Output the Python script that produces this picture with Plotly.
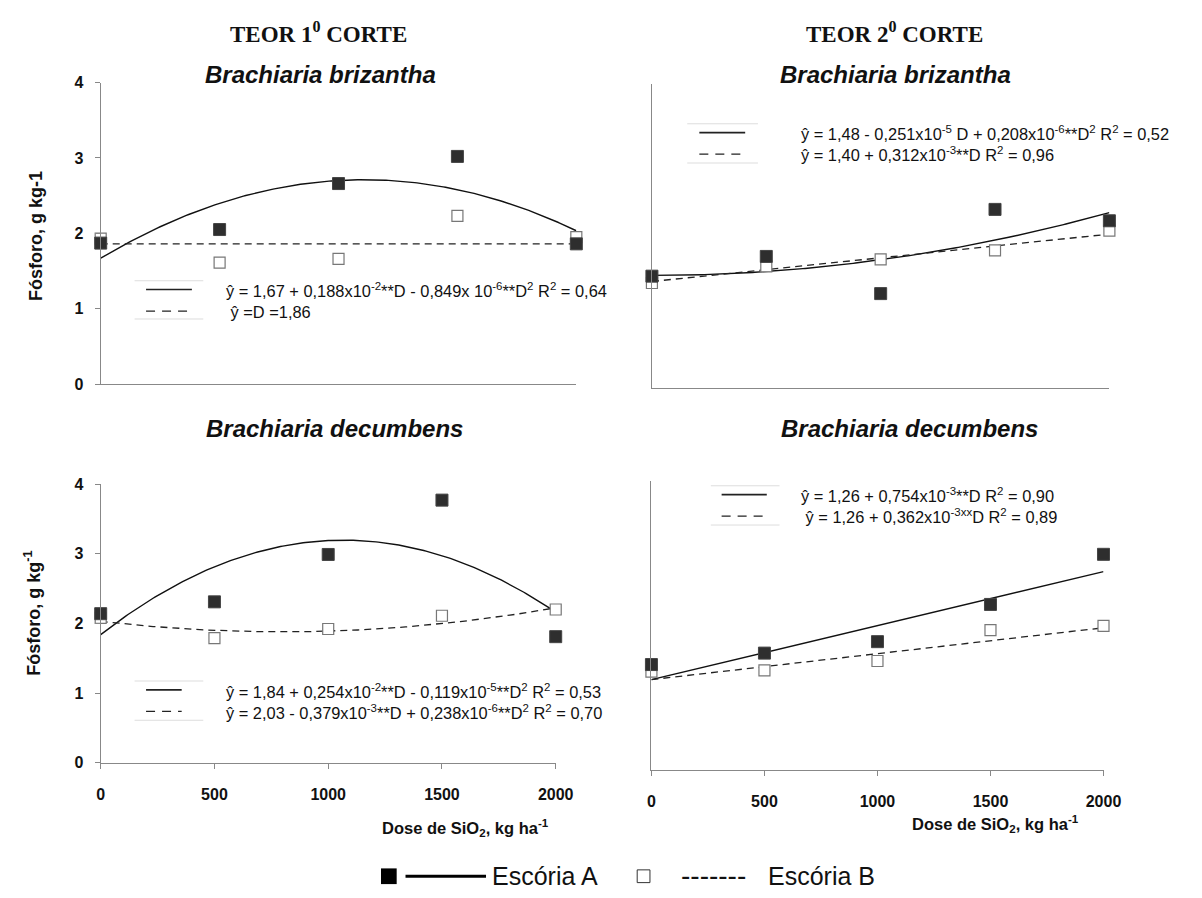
import numpy as np
import plotly.graph_objects as go

W, H = 1202, 898

# ---- data -------------------------------------------------------------
dose = [0, 500, 1000, 1500, 2000]

# Teor 1º corte - Brachiaria brizantha
tl_a = [1.87, 2.05, 2.66, 3.02, 1.86]
tl_b = [1.93, 1.61, 1.66, 2.23, 1.95]
# Teor 2º corte - Brachiaria brizantha
tr_a = [1.47, 1.73, 1.24, 2.35, 2.20]
tr_b = [1.38, 1.60, 1.69, 1.81, 2.07]
# Teor 1º corte - Brachiaria decumbens
bl_a = [2.14, 2.31, 2.99, 3.77, 1.81]
bl_b = [2.08, 1.79, 1.92, 2.11, 2.20]
# Teor 2º corte - Brachiaria decumbens
br_a = [1.47, 1.63, 1.79, 2.31, 3.01]
br_b = [1.37, 1.39, 1.52, 1.95, 2.01]

# regression coefficients (b0, b1, b2) as printed in each panel
tl_fit_a = [1.67, 0.188e-2, -0.849e-6]
tl_fit_b = [1.86, 0.0, 0.0]
tr_fit_a = [1.48, -0.251e-5, 0.208e-6]
tr_fit_b = [1.40, 0.312e-3, 0.0]
bl_fit_a = [1.84, 0.254e-2, -0.119e-5]
bl_fit_b = [2.03, -0.379e-3, 0.238e-6]
br_fit_a = [1.26, 0.754e-3, 0.0]
br_fit_b = [1.26, 0.362e-3, 0.0]

y_ticks = [0, 1, 2, 3, 4]
x_ticks = [0, 500, 1000, 1500, 2000]

NB = "\u00a0"

# equation labels, two lines per panel (Escória A, Escória B)
tl_eq = ["ŷ = 1,67 + 0,188x10<sup>-2</sup>**D - 0,849x 10<sup>-6</sup>**D<sup>2</sup> R<sup>2</sup> = 0,64",
         NB + "ŷ =D =1,86"]
tr_eq = ["ŷ = 1,48 - 0,251x10<sup>-5</sup> D + 0,208x10<sup>-6</sup>**D<sup>2</sup> R<sup>2</sup> = 0,52",
         "ŷ = 1,40 + 0,312x10<sup>-3</sup>**D R<sup>2</sup> = 0,96"]
bl_eq = ["ŷ = 1,84 + 0,254x10<sup>-2</sup>**D - 0,119x10<sup>-5</sup>**D<sup>2</sup> R<sup>2</sup> = 0,53",
         "ŷ = 2,03 - 0,379x10<sup>-3</sup>**D + 0,238x10<sup>-6</sup>**D<sup>2</sup> R<sup>2</sup> = 0,70"]
br_eq = ["ŷ = 1,26 + 0,754x10<sup>-3</sup>**D R<sup>2</sup> = 0,90",
         NB + "ŷ = 1,26 + 0,362x10<sup>-3xx</sup>D R<sup>2</sup> = 0,89"]


def px(x):
    return x / W


def py(y):
    return 1 - y / H


def fitted(coef):
    d = np.linspace(0, 2000, 201)
    return d, coef[0] + coef[1] * d + coef[2] * d ** 2


fig = go.Figure()

panels = [
    # axis suffix, A, B, fit A, fit B
    ("", tl_a, tl_b, tl_fit_a, tl_fit_b),
    ("2", tr_a, tr_b, tr_fit_a, tr_fit_b),
    ("3", bl_a, bl_b, bl_fit_a, bl_fit_b),
    ("4", br_a, br_b, br_fit_a, br_fit_b),
]

for sfx, a, b, fa, fb in panels:
    xa, ya = "x" + sfx, "y" + sfx
    d, ca = fitted(fa)
    fig.add_trace(go.Scatter(x=d, y=ca, mode="lines", xaxis=xa, yaxis=ya,
                             line=dict(color="#111111", width=1.4),
                             showlegend=False, hoverinfo="skip"))
    d, cb = fitted(fb)
    fig.add_trace(go.Scatter(x=d, y=cb, mode="lines", xaxis=xa, yaxis=ya,
                             line=dict(color="#222222", width=1.3, dash="7px,5px"),
                             showlegend=False, hoverinfo="skip"))
    fig.add_trace(go.Scatter(x=dose, y=b, mode="markers", xaxis=xa, yaxis=ya,
                             marker=dict(symbol="square", size=11, color="white",
                                         line=dict(color="#777777", width=1.2)),
                             cliponaxis=False, showlegend=False))
    fig.add_trace(go.Scatter(x=dose, y=a, mode="markers", xaxis=xa, yaxis=ya,
                             marker=dict(symbol="square", size=12, color="#2e2e2e",
                                         line=dict(color="#444444", width=1)),
                             cliponaxis=False, showlegend=False))

tick_font = dict(family="Liberation Sans, Arial", size=16, color="#111111",
                 weight="bold")
axis_line = dict(showline=True, linecolor="#888888", linewidth=1,
                 showgrid=False, zeroline=False)


def xax(dom, labels):
    d = dict(domain=dom, range=[0, 2000], **axis_line)
    if labels:
        d.update(tickmode="array", tickvals=x_ticks, ticks="outside",
                 ticklen=5, tickcolor="#888888", tickfont=tick_font,
                 ticklabelstandoff=12)
    else:
        d.update(showticklabels=False, ticks="")
    return d


def yax(dom, rng, labels):
    d = dict(domain=dom, range=rng, **axis_line)
    if labels:
        d.update(tickmode="array", tickvals=y_ticks, ticks="outside",
                 ticklen=5, tickcolor="#888888", tickfont=tick_font,
                 ticklabelstandoff=8)
    else:
        d.update(showticklabels=False, ticks="")
    return d


fig.update_layout(
    width=W, height=H,
    margin=dict(l=0, r=0, t=0, b=0),
    paper_bgcolor="white", plot_bgcolor="white",
    font=dict(family="Liberation Sans, Arial", color="#111111"),
    xaxis=dict(xax([px(98.5), px(583)], False), anchor="y"),
    yaxis=dict(yax([py(383.3), py(76)], [0, 4], True), anchor="x"),
    xaxis2=dict(xax([px(660), px(1126)], False), anchor="y2"),
    yaxis2=dict(yax([py(387), py(77.7)], [0, 4], False), anchor="x2"),
    xaxis3=dict(xax([px(98.5), px(562)], True), anchor="y3"),
    yaxis3=dict(yax([py(769.3), py(485.3)], [0, 4], True), anchor="x3"),
    xaxis4=dict(xax([px(659.5), px(1120)], True), anchor="y4"),
    yaxis4=dict(yax([py(776.5), py(481.7)], [0, 4.04], False), anchor="x4"),
)

ann = []


def text(x, y, s, size, xanchor="center", family="Liberation Sans, Arial",
         angle=0):
    ann.append(dict(x=px(x), y=py(y), xref="paper", yref="paper", text=s,
                    showarrow=False, xanchor=xanchor, yanchor="middle",
                    align="left", textangle=angle,
                    font=dict(family=family, size=size, color="#111111")))


# column headers
text(320.7, 25, "<b>TEOR 1<sup>0</sup> CORTE</b>", 23,
     family="Liberation Serif, Times New Roman")
text(906.6, 25, "<b>TEOR 2<sup>0</sup> CORTE</b>", 23,
     family="Liberation Serif, Times New Roman")

# panel titles
text(322.6, 68, "<b><i>Brachiaria brizantha</i></b>", 24)
text(908, 68, "<b><i>Brachiaria brizantha</i></b>", 24)
text(336.8, 429, "<b><i>Brachiaria decumbens</i></b>", 24)
text(922.6, 429, "<b><i>Brachiaria decumbens</i></b>", 24)

# axis titles
text(32, 232, "<b>Fósforo, g kg-1</b>", 18, angle=-90)
text(29, 617, "<b>Fósforo, g kg<sup>-1</sup></b>", 18, angle=-90)
text(383, 836, "<b>Dose de SiO<sub>2</sub>, kg ha<sup>-1</sup></b>", 16.5,
     xanchor="left")
text(923, 832, "<b>Dose de SiO<sub>2</sub>, kg ha<sup>-1</sup></b>", 16.5,
     xanchor="left")

# regression equations
eq = 16.4
text(224, 298.5, "<br>".join(tl_eq), eq, "left")
text(809.7, 138.5, "<br>".join(tr_eq), eq, "left")
text(224, 706.5, "<br>".join(bl_eq), eq, "left")
text(809.7, 507.5, "<br>".join(br_eq), eq, "left")

shapes = []


def hline(x0, x1, y, color, width, dash="solid"):
    shapes.append(dict(type="line", xref="paper", yref="paper",
                       x0=px(x0), x1=px(x1), y0=py(y), y1=py(y),
                       line=dict(color=color, width=width, dash=dash)))


# line samples next to the equations
for (bx0, bx1, lx0, lx1, ys, yd, yt, yb) in [
    (133, 203, 144.7, 191.4, 287, 309, 278, 317),
    (696, 768, 708.3, 755, 127, 149, 118, 158),
    (133, 203, 144.7, 181, 695, 717, 686, 726),
    (720, 790, 731, 777, 496, 518, 487, 527),
]:
    hline(bx0, bx1, yt, "#dddddd", 1)
    hline(bx0, bx1, yb, "#dddddd", 1)
    hline(lx0, lx1, ys, "#222222", 1.6)
    hline(lx0, lx1, yd, "#222222", 1.3, "9px,7px")

# bottom legend
shapes.append(dict(type="rect", xref="paper", yref="paper",
                   x0=px(384), x1=px(400), y0=py(893), y1=py(877),
                   fillcolor="#000000", line=dict(width=0)))
hline(409, 491, 885, "#000000", 3)
text(495, 885, "Escória A", 25, "left")
shapes.append(dict(type="rect", xref="paper", yref="paper",
                   x0=px(645), x1=px(658), y0=py(891.5), y1=py(878.5),
                   fillcolor="white", line=dict(color="#333333", width=1)))
text(688, 884, "-------", 28, "left")
text(776, 885, "Escória B", 25, "left")

fig.update_layout(annotations=ann, shapes=shapes)

fig.write_html("out.html")
